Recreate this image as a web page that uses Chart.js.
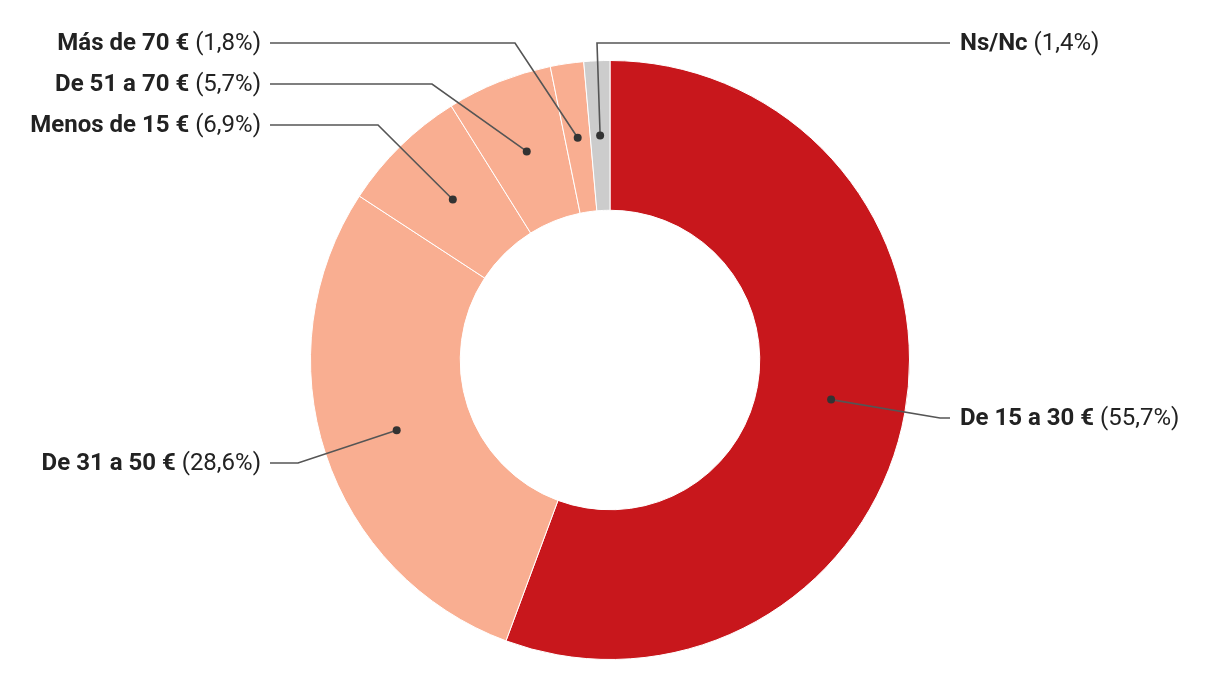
<!DOCTYPE html>
<html>
<head>
<meta charset="utf-8">
<script src="https://cdn.jsdelivr.net/npm/chart.js@4"></script>
<style>
  body { margin: 0; background: #fff; }
  #wrap { width: 1220px; height: 700px; }
</style>
</head>
<body>
<div id="wrap"><canvas id="priceChart" width="1220" height="700"></canvas></div>
<script>
// Chart data
const categories = ['De 15 a 30 €', 'De 31 a 50 €', 'Menos de 15 €', 'De 51 a 70 €', 'Más de 70 €', 'Ns/Nc'];
const shares = [55.7, 28.6, 6.9, 5.7, 1.8, 1.4];
const sliceColors = ['#c8171c', '#f9ae91', '#f9ae91', '#f9ae91', '#f9ae91', '#cccccc'];

// Where each callout label sits (same order as categories)
const callouts = [
  { side: 'right', y: 418, elbowX: 940 },
  { side: 'left', y: 463, elbowX: 298 },
  { side: 'left', y: 125, elbowX: 378 },
  { side: 'left', y: 84, elbowX: 432 },
  { side: 'left', y: 43, elbowX: 515 },
  { side: 'right', y: 43, elbowX: 597 },
];

const calloutPlugin = {
  id: 'callouts',
  afterDraw(chart) {
    const ctx = chart.ctx;
    const meta = chart.getDatasetMeta(0);
    ctx.save();
    meta.data.forEach((arc, i) => {
      const c = callouts[i];
      const dot = arc.tooltipPosition();
      const lineEnd = c.side === 'left' ? 270 : 950;

      // leader line
      ctx.strokeStyle = '#555';
      ctx.lineWidth = 1.6;
      ctx.beginPath();
      ctx.moveTo(dot.x, dot.y);
      ctx.lineTo(c.elbowX, c.y);
      ctx.lineTo(lineEnd, c.y);
      ctx.stroke();

      // dot
      ctx.fillStyle = '#333';
      ctx.beginPath();
      ctx.arc(dot.x, dot.y, 4, 0, Math.PI * 2);
      ctx.fill();

      // label: bold name + regular percent
      const name = categories[i];
      const pct = ' (' + String(shares[i]).replace('.', ',') + '%)';
      const boldFont = 'bold 24px Roboto';
      const regFont = '24px Roboto';
      ctx.font = boldFont;
      const wName = ctx.measureText(name).width;
      ctx.font = regFont;
      const wPct = ctx.measureText(pct).width;
      let x = c.side === 'left' ? 261 - wName - wPct : 960;
      ctx.textBaseline = 'middle';
      ctx.textAlign = 'left';
      ctx.fillStyle = '#222';
      ctx.font = boldFont;
      ctx.fillText(name, x, c.y + 1);
      ctx.font = regFont;
      ctx.fillText(pct, x + wName, c.y + 1);
    });
    ctx.restore();
  }
};

new Chart(document.getElementById('priceChart').getContext('2d'), {
  type: 'doughnut',
  data: {
    labels: categories,
    datasets: [{
      data: shares,
      backgroundColor: sliceColors,
      borderColor: '#ffffff',
      borderWidth: 1,
    }],
  },
  options: {
    responsive: false,
    animation: false,
    cutout: '50%',
    layout: { padding: { top: 60, bottom: 40 } },
    plugins: {
      legend: { display: false },
      tooltip: { enabled: false },
    },
  },
  plugins: [calloutPlugin],
});
</script>
</body>
</html>
